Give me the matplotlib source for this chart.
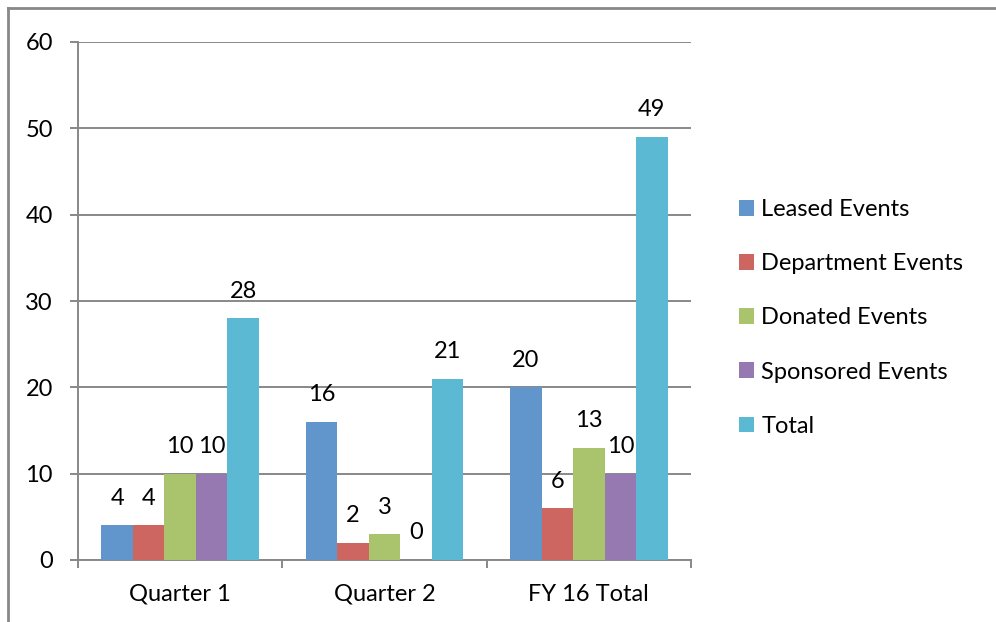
import numpy as np
import matplotlib.pyplot as plt
from matplotlib.lines import Line2D

# data
categories = ["Quarter 1", "Quarter 2", "FY 16 Total"]
series_names = ["Leased Events", "Department Events", "Donated Events",
                "Sponsored Events", "Total"]
leased = [4, 16, 20]
department = [4, 2, 6]
donated = [10, 3, 13]
sponsored = [10, 0, 10]
total = [28, 21, 49]

colors = ["#6096CB", "#CD6660", "#A9C46D", "#9579B0", "#5CB9D3"]

plt.rcParams['font.family'] = ['Lato', 'DejaVu Sans']
fs = 17

fig = plt.figure(figsize=(9.96, 6.22), dpi=100)
ax = fig.add_axes([78/996, 1 - 560/622, (691 - 78)/996, (560 - 42)/622])

x = np.arange(len(categories))
bw = 0.154
all_series = [leased, department, donated, sponsored, total]
for i, (vals, name, c) in enumerate(zip(all_series, series_names, colors)):
    pos = x + (i - 2) * bw
    ax.bar(pos, vals, bw, color=c, label=name, zorder=3, linewidth=0)
    for p, v in zip(pos, vals):
        ax.annotate(str(v), (p, v), xytext=(0, 19.5), textcoords="offset points",
                    ha="center", va="center", fontsize=fs)

ax.set_xlim(-0.5, 2.5)
ax.set_ylim(0, 60)
ax.set_yticks(range(0, 61, 10))
ax.yaxis.grid(True, color="#888888", linewidth=1.4, zorder=0)
ax.set_xticks(x)
ax.set_xticklabels(categories, fontsize=fs)
ax.set_xticks([-0.5, 0.5, 1.5, 2.5], minor=True)
ax.tick_params(axis="x", which="major", length=0, pad=17)
ax.tick_params(axis="x", which="minor", length=6, color="#888888", width=1.4)
ax.tick_params(axis="y", length=6, color="#888888", width=1.4, pad=12, labelsize=fs)

for s in ["top", "right"]:
    ax.spines[s].set_visible(False)
for s in ["left", "bottom"]:
    ax.spines[s].set_color("#888888")
    ax.spines[s].set_linewidth(1.4)

ax.legend(loc="center left", bbox_to_anchor=(739/996, 1 - 318/622),
          bbox_transform=fig.transFigure, frameon=False, fontsize=fs,
          handlelength=0.64, handleheight=0.64, handletextpad=0.3,
          labelspacing=1.40, borderpad=0, borderaxespad=0)

# outer frame of the embedded chart
fig.add_artist(Line2D([8/996, 8/996], [0, 1 - 8/622], color="#888888", linewidth=2))
fig.add_artist(Line2D([8/996, 1], [1 - 8/622, 1 - 8/622], color="#888888", linewidth=2))

fig.savefig("out.png", dpi=100)
